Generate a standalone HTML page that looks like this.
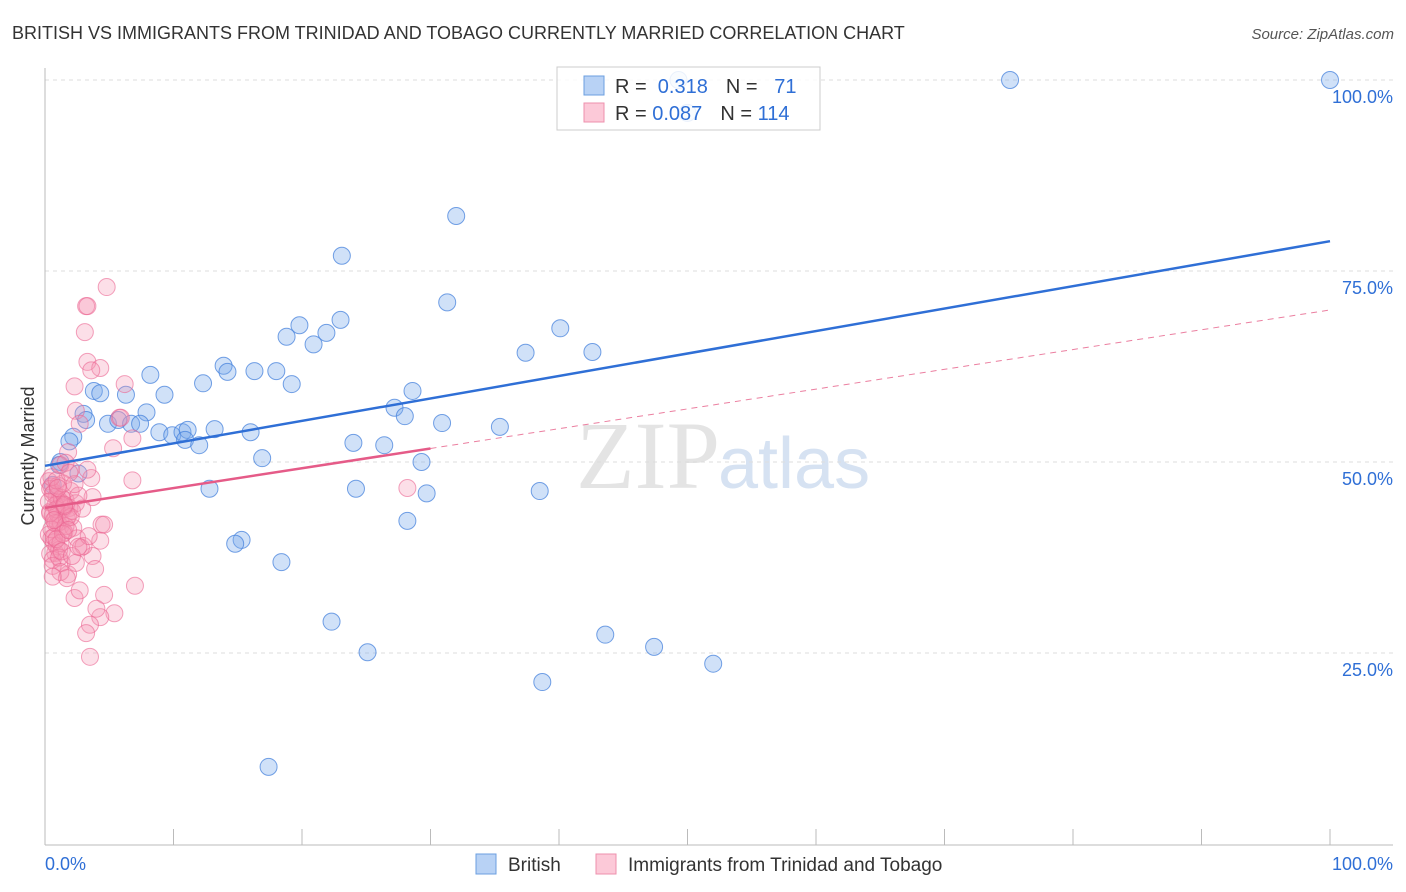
<!DOCTYPE html>
<html><head><meta charset="utf-8">
<style>
body{margin:0;background:#fff;font-family:"Liberation Sans",sans-serif;}
svg{display:block}
</style></head>
<body>
<svg id="chart" width="1406" height="892" xmlns="http://www.w3.org/2000/svg">
<text x="12" y="39" font-size="18" fill="#333">BRITISH VS IMMIGRANTS FROM TRINIDAD AND TOBAGO CURRENTLY MARRIED CORRELATION CHART</text>
<text x="1394" y="39" font-size="15" fill="#555" font-style="italic" text-anchor="end">Source: ZipAtlas.com</text>
<text x="720" y="488" font-size="96" fill="#e4e4e4" text-anchor="end" font-family="Liberation Serif,serif">ZIP</text>
<text x="718" y="488" font-size="72" fill="#d6e2f2">atlas</text>
<text transform="translate(34,456) rotate(-90)" font-size="18" fill="#333" text-anchor="middle">Currently Married</text>
<g id="grid"></g><g id="marks"></g>
<g>
<rect x="557" y="67" width="263" height="63" fill="rgba(255,255,255,0.85)" stroke="#ccc"/>
<rect x="584" y="76" width="20" height="19" fill="#b8d2f5" stroke="#6b9fe0"/>
<rect x="584" y="103" width="20" height="19" fill="#fcc9d8" stroke="#ee90ad"/>
<text x="615" y="93" font-size="20" fill="#333">R = <tspan fill="#2f6fd6">&#160;0.318</tspan><tspan dx="18">N = </tspan><tspan fill="#2f6fd6">&#160;&#160;71</tspan></text>
<text x="615" y="120" font-size="20" fill="#333">R = <tspan fill="#2f6fd6">0.087</tspan><tspan dx="18">N = </tspan><tspan fill="#2f6fd6">114</tspan></text>
</g>
<g>
<rect x="476" y="854" width="20" height="20" fill="#b8d2f5" stroke="#6b9fe0"/>
<text x="508" y="871" font-size="19" fill="#333">British</text>
<rect x="596" y="854" width="20" height="20" fill="#fcc9d8" stroke="#ee90ad"/>
<text x="628" y="871" font-size="19" fill="#333">Immigrants from Trinidad and Tobago</text>
</g>
<text x="45" y="870" font-size="18" fill="#2f6fd6">0.0%</text>
<text x="1393" y="870" font-size="18" fill="#2f6fd6" text-anchor="end">100.0%</text>
</svg>
<script>
const yTicks=[100,75,50,25];
const yTickLabels=["100.0%","75.0%","50.0%","25.0%"];
const xTicks=[0,10,20,30,40,50,60,70,80,90,100];
const britishX=[49.3,50.0,75.1,100,32.0,23.1,31.3,40.1,19.8,18.8,21.9,23.0,20.9,37.4,42.6,13.9,14.2,16.3,18.0,19.2,12.3,8.2,9.3,3.8,4.3,6.3,3.0,7.9,3.2,4.9,5.7,6.7,7.4,8.9,9.9,10.7,11.1,10.9,12.0,13.2,16.0,2.2,1.9,1.2,1.1,27.2,28.6,28.0,30.9,35.4,24.0,26.4,29.3,16.9,12.8,24.2,29.7,38.5,28.2,15.3,14.8,18.4,22.3,25.1,43.6,47.4,52.0,38.7,17.4,0.6,2.6];
const britishY=[100,95.7,100,100,82.2,77.0,70.9,67.5,67.9,66.4,66.9,68.6,65.4,64.3,64.4,62.6,61.8,61.9,61.9,60.2,60.3,61.4,58.8,59.3,59.0,58.8,56.3,56.5,55.5,55.0,55.5,55.0,55.0,53.9,53.5,53.9,54.2,52.9,52.2,54.3,53.9,53.3,52.7,50.0,49.6,57.1,59.3,56.0,55.1,54.6,52.5,52.2,50.0,50.5,46.5,46.5,45.9,46.2,42.3,39.8,39.3,36.9,29.1,25.1,27.4,25.8,23.6,21.2,10.1,47.0,48.5];
const immX=[4.8,3.2,3.3,3.1,3.3,4.3,3.6,2.3,6.2,2.4,5.8,5.9,2.7,5.3,6.8,1.8,6.8,28.2,7.0,5.4,3.5,4.3,4.6,3.5,3.2,4.0,2.3,1.8,1.3,0.8,4.4,4.6,4.3,3.7,3.9,2.7,3.6,3.7,3.3,2.0,1.2,1.6,
0.3,0.5,0.7,0.9,1.1,1.3,1.5,0.4,0.6,0.8,1.0,1.2,1.4,0.3,0.5,0.7,0.9,1.1,1.6,1.9,0.4,0.6,0.8,1.0,1.2,1.5,2.0,2.4,0.5,0.7,0.9,1.3,1.7,2.2,0.4,0.6,1.0,1.4,1.8,2.5,0.3,0.8,1.2,1.6,2.1,2.8,0.5,0.9,1.4,2.0,2.6,3.0,0.6,1.1,1.5,2.3,0.4,0.9,1.3,1.8,2.4,3.4,0.7,1.2,1.7,2.9,1.0,1.5,2.1,0.6,1.9,2.6];
const immY=[72.9,70.4,70.4,67.0,63.1,62.3,62.0,59.9,60.2,56.7,55.8,55.8,55.0,51.8,53.1,51.3,47.6,46.6,33.8,30.2,24.5,29.7,32.6,28.7,27.6,30.8,32.2,35.3,36.8,38.1,41.8,41.8,39.7,37.7,36.0,33.2,47.9,45.4,49.0,49.0,49.6,49.9,
47.5,46.8,46.0,45.5,45.0,44.6,44.0,43.5,43.0,42.5,42.0,41.6,41.0,40.5,40.0,39.5,39.0,38.5,45.0,44.0,46.5,45.8,44.3,43.2,42.2,40.8,46.2,44.6,41.2,40.2,43.8,45.3,42.6,41.4,38.0,37.2,46.9,47.2,43.0,40.0,44.8,42.0,39.4,41.6,43.6,38.8,48.0,47.6,40.6,42.8,45.6,39.0,36.4,37.5,44.2,47.1,43.3,39.9,38.3,41.1,36.8,40.3,42.4,35.6,34.8,43.9,46.6,44.4,37.7,35.0,48.6,38.9];
const britishTrend=[49.5,78.9];
const immTrend=[44.0,69.9];
const immSolidEnd=30;
const X=v=>45+v*12.85, Y=v=>844-v*7.64;
const NS="http://www.w3.org/2000/svg";
const grid=document.getElementById('grid'), marks=document.getElementById('marks');
function mk(tag,at,parent){const e=document.createElementNS(NS,tag);for(const k in at)e.setAttribute(k,at[k]);parent.appendChild(e);return e;}
yTicks.forEach((t,i)=>{
 const l=mk('line',{x1:45,x2:1393,y1:Y(t),y2:Y(t),stroke:'#ddd','stroke-dasharray':'4,4'},grid);
 
 
 const tx=mk('text',{x:1393,y:Y(t)+23,'font-size':18,fill:'#2f6fd6','text-anchor':'end'},grid);
 tx.textContent=yTickLabels[i];
 
 
});
const ax=mk('line',{x1:45,x2:45,y1:68,y2:845,stroke:'#bbb'},grid);


const bx=mk('line',{x1:45,x2:1393,y1:845,y2:845,stroke:'#bbb'},grid);


xTicks.forEach(t=>{
 const l=mk('line',{x1:X(t),x2:X(t),y1:829,y2:845,stroke:'#bbb'},grid);
 
 
});
britishX.forEach((v,i)=>{
 const c=mk('circle',{cx:X(v),cy:Y(britishY[i]),r:8.5,fill:'rgba(120,170,235,0.35)',stroke:'rgba(70,130,220,0.75)','stroke-width':1},marks);
 
 
});
immX.forEach((v,i)=>{
 const c=mk('circle',{cx:X(v),cy:Y(immY[i]),r:8.5,fill:'rgba(245,150,180,0.3)',stroke:'rgba(235,100,145,0.6)','stroke-width':1},marks);
 
 
});
const it=x=>immTrend[0]+(immTrend[1]-immTrend[0])*x/100;
const d=mk('line',{x1:X(immSolidEnd),y1:Y(it(immSolidEnd)),x2:X(100),y2:Y(it(100)),stroke:'#eb7fa0','stroke-width':1,'stroke-dasharray':'6,5'},marks);


const p=mk('line',{x1:X(0),y1:Y(it(0)),x2:X(immSolidEnd),y2:Y(it(immSolidEnd)),stroke:'#e55b88','stroke-width':2.5},marks);


const b=mk('line',{x1:X(0),y1:Y(britishTrend[0]),x2:X(100),y2:Y(britishTrend[1]),stroke:'#2f6fd6','stroke-width':2.5},marks);


</script>
</body></html>
